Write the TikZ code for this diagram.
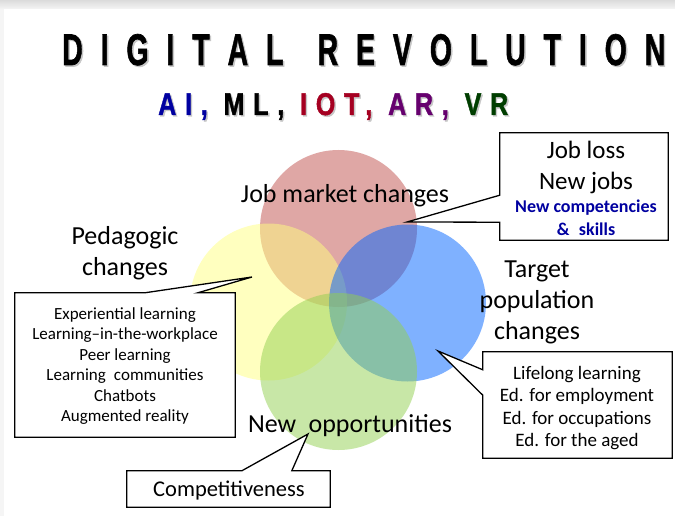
\documentclass[tikz,border=0pt]{standalone}
\usepackage{fontspec}
\setmainfont{Carlito}
\newfontfamily\titlefont{Liberation Sans}[LetterSpace=35,BoldFeatures={FakeBold=1.5}]
\usepackage{xcolor}
\usepackage{graphicx}
\usetikzlibrary{calc}
\definecolor{cred}{RGB}{192,80,77}
\definecolor{cyellow}{RGB}{255,255,128}
\definecolor{cblue}{RGB}{0,100,255}
\definecolor{cgreen}{RGB}{146,208,80}
\definecolor{aiblue}{RGB}{0,0,160}
\definecolor{iotred}{RGB}{165,0,33}
\definecolor{arpurple}{RGB}{102,0,110}
\definecolor{vrgreen}{RGB}{0,62,0}
\tikzset{
  venn/.style={fill opacity=0.5},
  label/.style={font=\fontsize{26}{31}\selectfont, align=center, inner sep=0pt},
  callout/.style={draw=black, fill=white, line width=1.3pt, line join=miter},
  boxtext/.style={align=center, inner sep=0pt}
}
\begin{document}
\begin{tikzpicture}[x=1pt,y=-1pt]
		\useasboundingbox (0,0) rectangle (675,516);
		\fill[black!4] (0,0) rectangle (675,516); % borde de la diapositiva
		\shade[top color=black!14, bottom color=black!4] (0,0) rectangle (675,9);
		\fill[white] (4,9) rectangle (675,516);
		\def\tit{\bfseries D I G I T A L\hspace{1.2em}R E V O L U T I O N}
		\def\sub{\bfseries {\color{aiblue}AI,} ML, {\color{iotred}IOT,} {\color{arpurple}AR,} {\color{vrgreen}VR}}
		\node[anchor=base west, inner sep=0pt, text=black!22] (titsh) at (63.5,66.5) {\titlefont\resizebox{603pt}{31pt}{\tit}};
		\node[anchor=base west, inner sep=0pt] (title) at (62,65) {\titlefont\resizebox{603pt}{31pt}{\tit}};
		\node[anchor=base west, inner sep=0pt] (subsh) at (159.5,116.5) {\titlefont\resizebox{350pt}{22pt}{\color{black!22}\bfseries AI, ML, IOT, AR, VR}};
		\node[anchor=base west, inner sep=0pt] (subtitle) at (158,115) {\titlefont\resizebox{350pt}{22pt}{\sub}};
		% circulos
		\def\r{78.5}
		\fill[venn, cred] (338.5,228.5) circle [radius=\r];
		\fill[venn, cyellow] (268.5,302) circle [radius=\r];
		\fill[venn, cblue] (407.5,303) circle [radius=\r];
		\fill[venn, cgreen] (338.5,371.5) circle [radius=\r];
		\node[label, anchor=base] (job) at (345,203) {Job market changes};
		\node[label] (ped) at (125,253) {Pedagogic\\changes};
		\node[label] (tar) at (537,302) {Target\\population\\changes};
		\node[label, anchor=base] (opp) at (350,432) {New\hspace{0.25em} opportunities};
		% cajas
		\node[minimum width=168, minimum height=107, inner sep=0pt] (jobs) at (584,186.5) {};
		\node[minimum width=220, minimum height=144, inner sep=0pt] (peda) at (125,365) {};
		\node[minimum width=189, minimum height=106, inner sep=0pt] (targ) at (577.5,405) {};
		\node[minimum width=203, minimum height=36, inner sep=0pt] (comp) at (228.5,489) {};
		\coordinate (pjob) at (407,222);
		\coordinate (pped) at (252,277);
		\coordinate (ptar) at (438,351);
		\coordinate (popp) at (308,434);
		\draw[callout] (jobs.north west) -- (jobs.north east) -- (jobs.south east) -- (jobs.south west)
			-- ($(jobs.south west)+(0,-18)$) -- (pjob) -- ($(jobs.south west)+(0,-45)$) -- cycle;
		\draw[callout] (peda.south west) -- (peda.north west) -- ($(peda.north west)+(130,0)$) -- (pped)
			-- ($(peda.north west)+(183,0)$) -- (peda.north east) -- (peda.south east) -- cycle;
		\draw[callout] (targ.north west) -- (targ.north east) -- (targ.south east) -- (targ.south west)
			-- ($(targ.south west)+(0,-63)$) -- (ptar) -- ($(targ.north west)+(0,18)$) -- cycle;
		\draw[callout] (comp.south west) -- (comp.north west) -- ($(comp.north west)+(115,0)$) -- (popp)
			-- ($(comp.north west)+(165,0)$) -- (comp.north east) -- (comp.south east) -- cycle;
		% textos de las cajas
		\node[boxtext, font=\fontsize{25}{31}\selectfont] at (586,188) {Job loss\\New jobs\\[-8pt]
			\fontsize{18}{22}\selectfont\bfseries\color{aiblue}New competencies\\[-8pt]
			\fontsize{18}{22}\selectfont\bfseries\color{aiblue}\&\hspace{0.3em} skills};
		\node[boxtext, font=\fontsize{17}{20.4}\selectfont] at (125,366) {Experiential learning\\Learning--in-the-workplace\\Peer learning\\Learning\hspace{0.25em} communities\\Chatbots\\Augmented reality};
		\node[boxtext, font=\fontsize{19}{22.3}\selectfont] at (577,408) {Lifelong learning\\Ed. for employment\\Ed. for occupations\\Ed. for the aged};
		\node[boxtext, font=\fontsize{22.5}{24}\selectfont] at (229,491) {Competitiveness};
\end{tikzpicture}
\end{document}
